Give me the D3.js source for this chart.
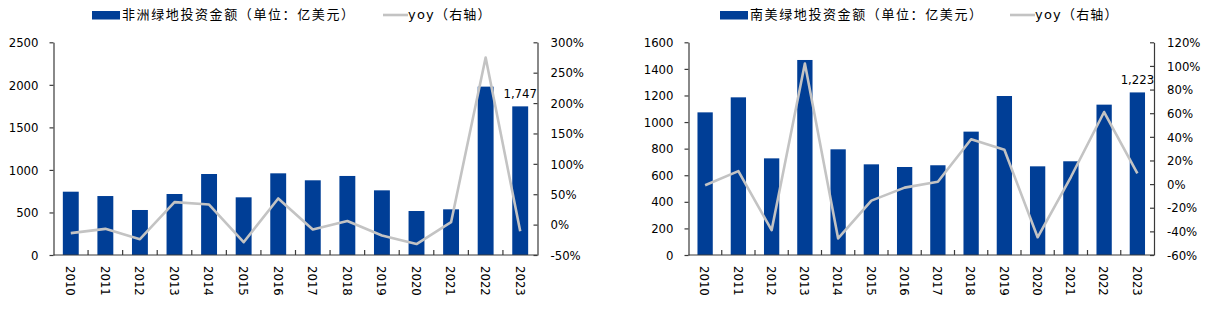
<!DOCTYPE html>
<html>
<head>
<meta charset="utf-8">
<script src="https://cdn.jsdelivr.net/npm/d3@7"></script>
<style>
  html, body { margin: 0; padding: 0; background: #fff; }
  svg { display: block; }
</style>
</head>
<body>
<svg id="chart" width="1231" height="322"></svg>
<script>
// ---------------- data ----------------
const years = ["2010","2011","2012","2013","2014","2015","2016","2017","2018","2019","2020","2021","2022","2023"];

const africaInvest = [744, 693, 529, 717, 952, 678, 960, 878, 929, 760, 517, 537, 1979, 1747];
const africaYoy    = [-14, -7, -24, 37, 33, -29, 43, -8, 6, -18, -32, 4, 275, -11];

const samericaInvest = [1073, 1186, 727, 1467, 795, 682, 662, 675, 928, 1196, 667, 705, 1131, 1223];
const samericaYoy    = [-1, 11, -39, 102, -46, -14, -3, 2, 38, 29, -45, 6, 61, 9];

const africaLeftTicks  = [0, 500, 1000, 1500, 2000, 2500];
const africaRightTicks = [-50, 0, 50, 100, 150, 200, 250, 300];
const samericaLeftTicks  = [0, 200, 400, 600, 800, 1000, 1200, 1400, 1600];
const samericaRightTicks = [-60, -40, -20, 0, 20, 40, 60, 80, 100, 120];

const africaBarName = "非洲绿地投资金额（单位：亿美元）";
const samericaBarName = "南美绿地投资金额（单位：亿美元）";
const yoyName = "yoy（右轴）";

// ---------------- style ----------------
const BAR_COLOR = "#003e96";
const LINE_COLOR = "#c3c3c3";
const AXIS_COLOR = "#3a3a3a";
const NUM_FONT = "'DejaVu Sans Condensed', 'DejaVu Sans', sans-serif";
const LEG_FONT = "'DejaVu Sans', 'Noto Sans CJK SC', sans-serif";

const svg = d3.select("#chart");

function drawChart(cfg) {
  const g = svg.append("g");
  const x = d3.scaleBand().domain(years).range([cfg.x0, cfg.x1])
    .paddingInner(0.54).paddingOuter(0.27);
  const yL = d3.scaleLinear().domain([cfg.leftTicks[0], cfg.leftTicks[cfg.leftTicks.length - 1]])
    .range([cfg.yBot, cfg.yTop]);
  const yR = d3.scaleLinear().domain([cfg.rightTicks[0], cfg.rightTicks[cfg.rightTicks.length - 1]])
    .range([cfg.yBot, cfg.yTop]);

  // bars
  g.append("g").selectAll("rect").data(years).join("rect")
    .attr("x", d => x(d))
    .attr("width", x.bandwidth())
    .attr("y", (d, i) => yL(cfg.bars[i]))
    .attr("height", (d, i) => yL(0) - yL(cfg.bars[i]))
    .attr("fill", BAR_COLOR);

  // left axis
  const axL = g.append("g").attr("transform", `translate(${cfg.x0},0)`)
    .call(d3.axisLeft(yL).tickValues(cfg.leftTicks).tickSizeInner(4).tickSizeOuter(0).tickPadding(11).tickFormat(d3.format("d")));
  // right axis (ticks inward)
  const axR = g.append("g").attr("transform", `translate(${cfg.x1},0)`)
    .call(d3.axisRight(yR).tickValues(cfg.rightTicks).tickSizeInner(-4).tickSizeOuter(0).tickPadding(13).tickFormat(d => d + "%"));
  [axL, axR].forEach(a => {
    a.selectAll("path.domain").attr("stroke", AXIS_COLOR).attr("stroke-width", 1.2);
    a.selectAll(".tick line").attr("stroke", AXIS_COLOR).attr("stroke-width", 1.2);
    a.selectAll(".tick text").attr("fill", "#000").style("font-family", NUM_FONT).style("font-size", "13px");
  });

  // bottom axis
  const bx = g.append("g");
  bx.append("line").attr("x1", cfg.x0).attr("x2", cfg.x1)
    .attr("y1", yL(0)).attr("y2", yL(0)).attr("stroke", AXIS_COLOR).attr("stroke-width", 1.2);
  const step = x.step();
  bx.selectAll("line.tk").data(years.slice(1)).join("line").attr("class", "tk")
    .attr("x1", d => x(d) - step * 0.27).attr("x2", d => x(d) - step * 0.27)
    .attr("y1", yL(0)).attr("y2", yL(0) - 5)
    .attr("stroke", AXIS_COLOR).attr("stroke-width", 1.2);
  bx.selectAll("text").data(years).join("text")
    .attr("transform", d => `translate(${x(d) + x.bandwidth() / 2},${yL(0) + 11}) rotate(90)`)
    .attr("dy", "0.36em")
    .attr("text-anchor", "start")
    .style("font-family", NUM_FONT).style("font-size", "13px")
    .attr("fill", "#000")
    .text(d => d);

  // yoy line
  const line = d3.line()
    .x((d, i) => x(years[i]) + x.bandwidth() / 2)
    .y(d => yR(d));
  g.append("path").datum(cfg.yoy)
    .attr("d", line)
    .attr("fill", "none")
    .attr("stroke", LINE_COLOR)
    .attr("stroke-width", 2.6)
    .attr("stroke-linejoin", "round");

  // data label on last bar
  const last = years.length - 1;
  g.append("text")
    .attr("x", x(years[last]) + x.bandwidth() / 2)
    .attr("y", yL(cfg.bars[last]) - 8)
    .attr("text-anchor", "middle")
    .style("font-family", NUM_FONT).style("font-size", "13px")
    .attr("fill", "#000")
    .text(d3.format(",")(cfg.bars[last]));

  // legend
  const lg = g.append("g");
  lg.append("rect").attr("x", cfg.legRectX).attr("y", 11).attr("width", 28).attr("height", 8.5).attr("fill", BAR_COLOR);
  lg.append("text").attr("x", cfg.legRectX + 30).attr("y", 19)
    .style("font-family", LEG_FONT).style("font-size", "13px").style("letter-spacing", "1.6px")
    .attr("fill", "#000").text(cfg.barName);
  lg.append("line").attr("x1", cfg.legLineX).attr("x2", cfg.legLineX + 25)
    .attr("y1", 15).attr("y2", 15).attr("stroke", LINE_COLOR).attr("stroke-width", 2.6);
  lg.append("text").attr("x", cfg.legLineX + 25).attr("y", 19)
    .style("font-family", LEG_FONT).style("font-size", "13px").style("letter-spacing", "1.2px")
    .attr("fill", "#000").text(yoyName);
}

drawChart({
  x0: 53.5, x1: 537.5, yTop: 42.3, yBot: 255,
  bars: africaInvest, yoy: africaYoy,
  leftTicks: africaLeftTicks, rightTicks: africaRightTicks,
  barName: africaBarName, legRectX: 92, legLineX: 383
});

drawChart({
  x0: 688.5, x1: 1154, yTop: 42.3, yBot: 255,
  bars: samericaInvest, yoy: samericaYoy,
  leftTicks: samericaLeftTicks, rightTicks: samericaRightTicks,
  barName: samericaBarName, legRectX: 720, legLineX: 1010
});
</script>
</body>
</html>
